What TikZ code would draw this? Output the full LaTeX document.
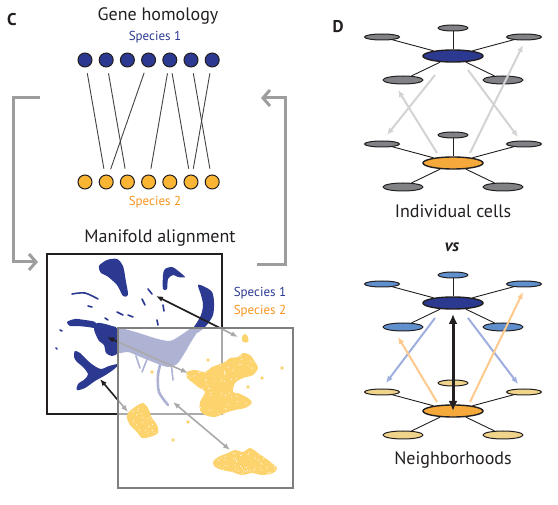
\documentclass[tikz,border=0pt]{standalone}
\usepackage{fontspec}
\setmainfont{PT Sans}
\usetikzlibrary{arrows.meta,calc,shapes.geometric}
\definecolor{SpeciesBlue}{HTML}{2B3990}
\definecolor{SpeciesOrange}{HTML}{F7941D}
\definecolor{HubOrange}{HTML}{F4A93A}
\definecolor{DotOrange}{HTML}{F9B533}
\definecolor{CloudYellow}{HTML}{FDD36E}
\definecolor{SatGray}{HTML}{808285}
\definecolor{SatBlue}{HTML}{5F8FCC}
\definecolor{SatTan}{HTML}{F1D48B}
\definecolor{LoopGray}{HTML}{9D9D9D}
\definecolor{BoxGray}{HTML}{7F7F7F}
\definecolor{PaleGray}{HTML}{D1D3D4}
\definecolor{PaleBlue}{HTML}{9EAEDF}
\definecolor{PaleOrange}{HTML}{FDC98C}
\definecolor{Ink}{HTML}{231F20}
\tikzset{
  every picture/.style={line width=0.8pt},
  headlabel/.style={font=\fontsize{18}{20}\selectfont, text=Ink, anchor=base, inner sep=0pt},
  panellabel/.style={font=\fontsize{17}{19}\selectfont\bfseries, text=Ink, anchor=base, inner sep=0pt},
  specieslabel/.style={font=\fontsize{13}{15}\selectfont, anchor=base, inner sep=0pt},
  genedot/.style={circle, draw=Ink, line width=1pt, minimum size=14pt, inner sep=0pt},
  homline/.style={draw=Ink!85, line width=0.9pt, shorten <=6pt, shorten >=6pt},
  looparrow/.style={draw=LoopGray, line width=3pt, -{Straight Barb[length=7pt,width=16pt]}},
  umapbox/.style={line width=2pt},
  bluecloud/.style={fill=SpeciesBlue},
  bluestroke/.style={draw=SpeciesBlue, line width=1.6pt, line cap=round},
  yellowcloud/.style={fill=CloudYellow},
  speckled/.style={path picture={
    \foreach \k in {1,...,#1}
      \fill[white] let \p1=(path picture bounding box.south west),
                       \p2=(path picture bounding box.north east) in
        ({\x1+rnd*(\x2-\x1)},{\y1+rnd*(\y2-\y1)}) circle (0.55pt);}},
  pairarrow/.style={draw=Ink, line width=1.6pt, {Latex[length=7pt,width=5.5pt]}-{Latex[length=7pt,width=5.5pt]}},
  hubcell/.style={ellipse, draw=Ink, line width=1.4pt, minimum width=60pt, minimum height=12pt, inner sep=0pt},
  satcell/.style={ellipse, draw=Ink, line width=1pt, inner sep=0pt},
  celledge/.style={draw=Ink, line width=0.9pt},
  matcharrow/.style={line width=2pt, -{Latex[length=7pt,width=6pt]}}
}
\pgfmathsetseed{4242}

\begin{document}
\begin{tikzpicture}[x=1pt,y=-1pt]
  \useasboundingbox (0,0) rectangle (558,505);

  % panel C: gene homology
  \node[panellabel] (labC) at (12,26) {C};
  \node[headlabel] (genehead) at (158,21) {Gene homology};
  \node[specieslabel, text=SpeciesBlue] (sponeTop) at (155,41) {Species 1};
  \node[specieslabel, text=SpeciesOrange] (sptwoTop) at (155,206) {Species 2};
  \foreach \i in {1,...,7} {
    \node[genedot, fill=SpeciesBlue] (sp1-\i) at (85+21.2*\i-21.2,60) {};
    \node[genedot, fill=DotOrange] (sp2-\i) at (85+21.2*\i-21.2,182) {};
  }
  \foreach \a/\b in {1/2, 2/3, 4/2, 5/4, 5/6, 6/7, 7/6}
    \draw[homline] (sp1-\a) -- (sp2-\b);

  % loop between the two halves
  \coordinate (lbStart) at (40,98);
  \coordinate (lbEnd) at (38,262);
  \draw[looparrow] (lbStart) -- ++(-27,0) |- (lbEnd);
  \coordinate (rbStart) at (257,265);
  \coordinate (rbEnd) at (261,98);
  \draw[looparrow] (rbStart) -- ++(28,0) |- (rbEnd);

  % panel C: manifold alignment
  \node[headlabel] (alignhead) at (160,243) {Manifold alignment};
  \node[specieslabel, text=SpeciesBlue] (sponeKey) at (260,297) {Species 1};
  \node[specieslabel, text=SpeciesOrange] (sptwoKey) at (260,315) {Species 2};

  \draw[umapbox, draw=Ink] (47,254) rectangle (222,414);
  \fill[bluecloud] plot[smooth cycle, tension=0.5] coordinates {(99,266) (107,260) (117,259) (123,266) (126,282) (128,295) (123,296) (117,285) (107,276) (101,273)};
  \fill[bluecloud] plot[smooth cycle, tension=0.5] coordinates {(163,275) (165,269) (172,267) (177,270) (185,277) (178,277) (173,275) (168,279) (167,289) (163,289)};
  \fill[bluecloud] plot[smooth cycle, tension=0.5] coordinates {(198,285) (205,287) (212,292) (214,302) (213,315) (206,326) (197,333) (191,332) (196,324) (201,315) (203,305) (201,295)};
  \fill[bluecloud] plot[smooth cycle, tension=0.5] coordinates {(97,323) (105,324) (112,326) (118,329) (121,345) (118,353) (112,356) (106,353) (104,345) (99,341) (96,335) (94,329)};
  \fill[bluecloud] plot[smooth cycle, tension=0.5] coordinates {(67,322) (75,319) (85,320) (95,322) (97,328) (88,327) (78,326) (70,326)};
  \fill[bluecloud] plot[smooth cycle, tension=0.5] coordinates {(75,351) (80,353) (86,359) (93,365) (101,369) (109,366) (119,364) (113,370) (104,376) (95,381) (85,388) (77,390) (78,384) (85,379) (88,374) (83,367) (77,362) (74,357)};
  \fill[bluecloud] plot[smooth cycle, tension=0.5] coordinates {(116,329) (132,331) (145,335) (158,339) (170,341) (178,337) (187,331) (193,327) (198,330) (191,342) (184,354) (177,364) (168,367) (158,364) (148,360) (138,356) (128,352) (116,352)};
  \draw[bluestroke, line width=2.6pt] plot[smooth] coordinates {(162,358) (158,375) (159,392) (168,405)};
  \draw[bluestroke] plot[smooth] coordinates {(72,294) (85,293) (98,299)};
  \foreach \xa/\ya/\xb/\yb in {148/357/142/372, 136/356/140/368, 171/362/173/380, 148/289/152/294,
      142/299/145/305, 117/312/123/315, 128/315/133/317, 163/305/164/311, 105/318/108/320,
      60/330/62/331, 56/348/57/349, 88/306/92/307, 157/320/158/325, 193/378/202/382}
    \draw[bluestroke] (\xa,\ya) -- (\xb,\yb);

  \coordinate (m1a) at (156,296);
  \coordinate (m1b) at (238,337);
  \coordinate (m2a) at (107,337);
  \coordinate (m2b) at (188,373);
  \coordinate (m3a) at (100,379);
  \coordinate (m3b) at (128,412);
  \coordinate (m4a) at (173,402);
  \coordinate (m4b) at (230,450);
  \foreach \p in {1,...,4}
    \draw[pairarrow] (m\p a) -- (m\p b);

  \draw[umapbox, draw=BoxGray, fill=white, fill opacity=0.62] (118,328) rectangle (293,488);
  \fill[yellowcloud] plot[smooth cycle, tension=0.5] coordinates {(242,337) (245,334) (248,337) (248,342) (243,342)};
  \fill[yellowcloud, speckled=110] plot[smooth cycle, tension=0.5] coordinates {(187,372) (195,370) (205,372) (212,367) (225,362) (230,358) (238,357) (243,353) (250,355) (255,362) (258,368) (253,375) (243,378) (235,383) (233,392) (238,393) (248,398) (252,403) (245,408) (235,410) (225,413) (215,417) (205,415) (200,410) (200,402) (205,392) (198,387) (192,382) (187,378)};
  \fill[yellowcloud, speckled=45] plot[smooth cycle, tension=0.5] coordinates {(128,413) (135,407) (143,403) (148,408) (152,418) (157,425) (158,433) (150,437) (142,438) (137,432) (130,425) (127,418)};
  \fill[yellowcloud, speckled=70] plot[smooth cycle, tension=0.5] coordinates {(213,462) (218,457) (228,453) (235,450) (243,452) (250,448) (258,453) (268,460) (277,468) (273,473) (262,475) (252,473) (242,475) (232,472) (222,470) (215,467)};
  \foreach \cx/\cy in {208/360, 282/368, 248/387, 188/422, 173/440, 152/372, 262/378}
    \fill[yellowcloud] (\cx,\cy) circle (1.8pt);

  % panel D: cell graphs
  \node[panellabel] (labD) at (338,33) {D};
  \foreach \net/\cy/\hub/\sat in {ia/56/SpeciesBlue/SatGray, ib/163/HubOrange/SatGray,
                                  na/303/SpeciesBlue/SatBlue, nb/411/HubOrange/SatTan} {
    \node[hubcell, fill=\hub] (\net) at (453,\cy) {};
    \foreach \s/\dx/\dy/\w/\h in {t/0/-28/30/6, ul/-71/-19/35/6, ur/71/-19/35/6,
                                  ll/-50/24/40/8, lr/50/24/40/8} {
      \node[satcell, fill=\sat, minimum width=\w, minimum height=\h] (\net-\s)
        at ([shift={(\dx,\dy)}]\net.center) {};
      \draw[celledge] (\net) -- (\net-\s);
    }
  }
  \node[headlabel] (cellhead) at (453,218) {Individual cells};
  \node[headlabel, font=\fontsize{17}{19}\selectfont\bfseries\itshape] (vshead) at (452,252) {vs};
  \node[headlabel] (nbhdhead) at (453,465) {Neighborhoods};

  \coordinate (g1a) at (435,75);  \coordinate (g1b) at (387,135);
  \coordinate (g2a) at (437,153); \coordinate (g2b) at (398,90);
  \coordinate (g3a) at (470,153); \coordinate (g3b) at (523,45);
  \coordinate (g4a) at (468,70);  \coordinate (g4b) at (518,137);
  \foreach \p in {1,...,4}
    \draw[matcharrow, draw=PaleGray, fill=PaleGray] (g\p a) -- (g\p b);

  \coordinate (b1a) at (435,318); \coordinate (b1b) at (386,383);
  \coordinate (b2a) at (468,318); \coordinate (b2b) at (518,384);
  \coordinate (o1a) at (437,402); \coordinate (o1b) at (398,337);
  \coordinate (o2a) at (470,402); \coordinate (o2b) at (523,292);
  \draw[matcharrow, draw=PaleBlue, fill=PaleBlue] (b1a) -- (b1b);
  \draw[matcharrow, draw=PaleBlue, fill=PaleBlue] (b2a) -- (b2b);
  \draw[matcharrow, draw=PaleOrange, fill=PaleOrange] (o1a) -- (o1b);
  \draw[matcharrow, draw=PaleOrange, fill=PaleOrange] (o2a) -- (o2b);
  \coordinate (kA) at (453,314);
  \coordinate (kB) at (453,411);
  \draw[draw=Ink, fill=Ink, line width=3pt, {Latex[length=10pt,width=9pt]}-{Latex[length=10pt,width=9pt]}] (kA) -- (kB);
\end{tikzpicture}
\end{document}
